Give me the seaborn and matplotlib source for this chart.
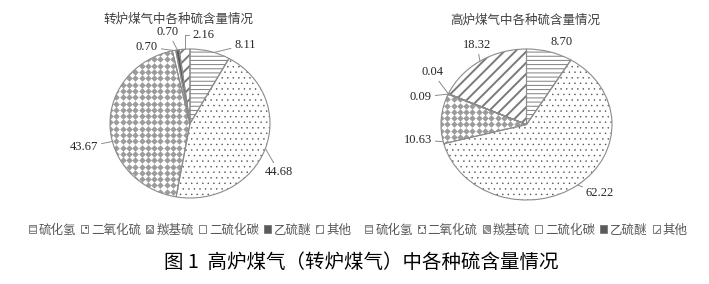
import numpy as np
import pandas as pd
import matplotlib
matplotlib.use("Agg")
import matplotlib.pyplot as plt
import matplotlib.patches as mpatches
from matplotlib.legend_handler import HandlerTuple
import seaborn as sns

# ---- data -------------------------------------------------------------
components = ["硫化氢", "二氧化硫", "羰基硫", "二硫化碳", "乙硫醚", "其他"]
converter_gas = [8.11, 44.68, 43.67, 0.70, 0.70, 2.16]
blast_furnace_gas = [8.70, 62.22, 10.63, 0.09, 0.04, 18.32]
converter_title = "转炉煤气中各种硫含量情况"
blast_title = "高炉煤气中各种硫含量情况"
caption = "图 1  高炉煤气（转炉煤气）中各种硫含量情况"

df = pd.DataFrame({"component": components,
                   "converter": converter_gas,
                   "blast": blast_furnace_gas})

# ---- style ------------------------------------------------------------
sns.set_theme(style="white")
plt.rcParams["font.family"] = ["Noto Sans CJK SC", "DejaVu Sans"]
plt.rcParams["hatch.linewidth"] = 0.8

OUTLINE = "#8c8c8c"
DIAMOND = "#9c9c9c"
NUM_FONT = ["Liberation Serif", "DejaVu Serif"]

# fill per component: face colour, hatch, hatch colour, hatch line width,
# and whether the wedge gets the diamond texture
fills = [
    dict(face="white", hatch="----", hc="#7f7f7f", hw=0.7, diamonds=False),
    dict(face="white", hatch="...", hc="#505050", hw=0.3, diamonds=False),
    dict(face="white", hatch=None, hc="white", hw=0.5, diamonds=True),
    dict(face="white", hatch=None, hc="white", hw=0.5, diamonds=False),
    dict(face="#5a5a5a", hatch=None, hc="#5a5a5a", hw=0.5, diamonds=False),
    dict(face="white", hatch="///", hc="#7a7a7a", hw=1.4, diamonds=False),
]
# legend swatch for the diamond texture
legend_fill = dict(face=DIAMOND, hatch="xxx", hc="white", hw=0.9)

W, H = 709, 284
fig = plt.figure(figsize=(W / 100, H / 100), dpi=100)
fig.patch.set_facecolor("white")


def set_hatch_width(p, hw):
    try:
        p.set_hatch_linewidth(hw)
    except AttributeError:
        pass


def styled_patch(st):
    p = mpatches.Patch(facecolor=st["face"], edgecolor=st["hc"],
                       hatch=st["hatch"], linewidth=0)
    set_hatch_width(p, st["hw"])
    return p


def draw_pie(values, cx, cy, rx, ry, title, title_xy, label_xy, attach,
             show_line, elbow):
    span = 1.6
    ax = fig.add_axes([(cx - rx * span) / W, (H - cy - ry * span) / H,
                       2 * rx * span / W, 2 * ry * span / H])
    wedges, _ = ax.pie(values, startangle=90, counterclock=False,
                       wedgeprops=dict(linewidth=0))
    for w, st in zip(wedges, fills):
        w.set_facecolor(st["face"])
        w.set_edgecolor(st["hc"])
        w.set_linewidth(0)
        w.set_hatch(st["hatch"])
        set_hatch_width(w, st["hw"])
        if st["diamonds"]:
            # grid of small diamonds, clipped to the wedge
            pitch = 6.3
            gx = np.arange(-rx, rx + pitch, pitch) / rx
            gy = np.arange(-ry, ry + pitch, pitch) / ry
            xx, yy = np.meshgrid(gx, gy)
            sc = ax.scatter(xx.ravel(), yy.ravel(), marker="D", s=11,
                            color=DIAMOND, linewidths=0, zorder=1.5)
            sc.set_clip_path(w)
    # outlines on top
    ax.pie(values, startangle=90, counterclock=False,
           wedgeprops=dict(fill=False, edgecolor=OUTLINE, linewidth=0.8,
                           zorder=2))
    ax.set_aspect("auto")
    ax.set_xlim(-span, span)
    ax.set_ylim(-span, span)
    ax.axis("off")

    # value labels with leader lines
    for w, v, (tx, ty), f, line, el in zip(wedges, values, label_xy, attach,
                                           show_line, elbow):
        ang = np.deg2rad(w.theta2 - f * (w.theta2 - w.theta1))
        xy = (np.cos(ang), np.sin(ang))
        props = None
        if line:
            props = dict(arrowstyle="-", color=OUTLINE, lw=0.7,
                         shrinkA=0, shrinkB=0)
            if el:
                props["connectionstyle"] = "angle,angleA=0,angleB=90,rad=0"
        ax.annotate(f"{v:.2f}", xy=xy, xytext=(tx, H - ty),
                    textcoords="figure pixels", ha="center", va="center",
                    fontsize=9, family=NUM_FONT, color="#262626",
                    arrowprops=props)

    fig.text(title_xy[0] / W, 1 - title_xy[1] / H, title, ha="center",
             va="center", fontsize=9, color="#404040")

    handles = []
    for st in fills:
        swatch = styled_patch(legend_fill if st["diamonds"] else st)
        frame = mpatches.Patch(facecolor="none", edgecolor="#7f7f7f",
                               linewidth=0.7)
        handles.append((swatch, frame))
    ax.legend(handles, components, loc="center",
              bbox_to_anchor=(cx / W, 1 - 230 / H),
              bbox_transform=fig.transFigure, ncol=6, frameon=False,
              fontsize=9, labelcolor="#595959", handlelength=0.55,
              handleheight=0.55, handletextpad=0.25, columnspacing=0.4,
              borderpad=0, borderaxespad=0,
              handler_map={tuple: HandlerTuple(ndivide=1, pad=0)})
    return ax


draw_pie(df["converter"].tolist(), 190, 123.5, 80, 74.5, converter_title,
         (178, 19),
         [(245, 45), (279, 172), (84, 147), (147, 47), (168, 32), (203, 35)],
         [0.6, 0.5, 0.42, 0.5, 0.5, 0.5],
         [True, True, True, True, True, True],
         [False, False, False, False, False, True])

draw_pie(df["blast"].tolist(), 526.5, 124.5, 85.5, 75.5, blast_title,
         (525, 20),
         [(562, 42), (600, 193), (418, 140), (421, 97), (432, 72), (477, 45)],
         [0.5, 0.5, 0.04, 0.5, 0.5, 0.5],
         [False, True, True, True, True, True],
         [False, False, False, False, False, False])

fig.text(361 / W, 1 - 262 / H, caption, ha="center", va="center",
         fontsize=14, color="black")

fig.savefig("out.png", dpi=100, facecolor="white")
